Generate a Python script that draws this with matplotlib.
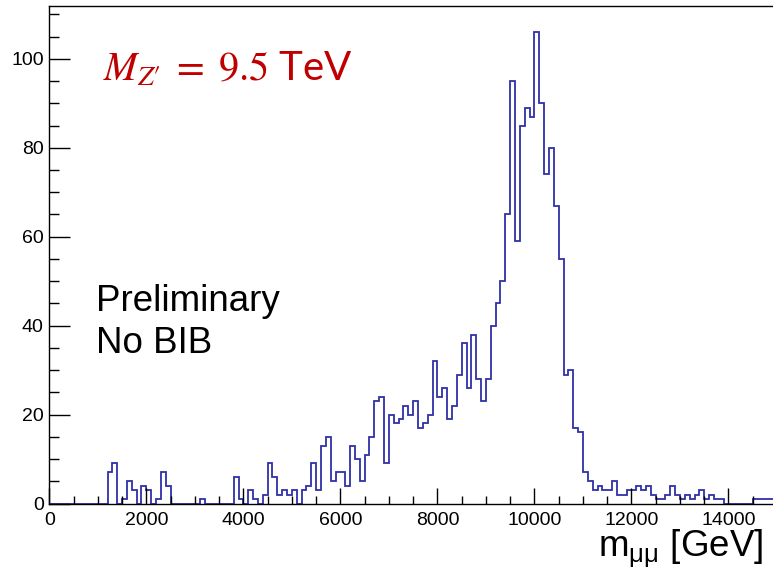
import numpy as np
import matplotlib
matplotlib.use("Agg")
import matplotlib.pyplot as plt
from matplotlib.ticker import MultipleLocator

# ---- data (counts per 100 GeV bin, 0 - 15000 GeV) ----
bin_width = 100
counts = [
    0, 0, 0, 0, 0, 0, 0, 0, 0, 0,        # 0 - 900
    0, 0, 7, 9, 0, 1, 5, 3, 0, 4,        # 1000 - 1900
    3, 0, 1, 7, 4, 0, 0, 0, 0, 0,        # 2000 - 2900
    0, 1, 0, 0, 0, 0, 0, 0, 6, 1,        # 3000 - 3900
    0, 3, 1, 0, 2, 9, 6, 2, 3, 2,        # 4000 - 4900
    3, 0, 3, 4, 9, 3, 13, 15, 5, 7,      # 5000 - 5900
    7, 4, 13, 10, 5, 11, 15, 23, 24, 9,  # 6000 - 6900
    20, 18, 19, 22, 20, 23, 17, 18, 20, 32,   # 7000 - 7900
    24, 26, 19, 22, 29, 36, 26, 38, 28, 23,   # 8000 - 8900
    28, 40, 45, 50, 65, 95, 59, 85, 89, 87,   # 9000 - 9900
    106, 90, 74, 80, 67, 55, 29, 30, 17, 16,  # 10000 - 10900
    7, 5, 3, 4, 3, 3, 5, 2, 2, 3,        # 11000 - 11900
    3, 4, 3, 4, 2, 1, 1, 2, 4, 2,        # 12000 - 12900
    1, 2, 1, 2, 3, 1, 2, 1, 1, 0,        # 13000 - 13900
    0, 0, 0, 0, 0, 1, 1, 1, 1, 1,        # 14000 - 14900
]
x_range = (0, 15000)
y_max = 112
x_tick_labels = ["0", "2000", "4000", "6000", "8000", "10000", "12000", "14000"]
y_tick_labels = ["0", "20", "40", "60", "80", "100"]

edges = np.arange(x_range[0], x_range[1] + bin_width, bin_width)

W, H = 773, 570
fig = plt.figure(figsize=(W / 100, H / 100), dpi=100)
plt.rcParams['font.family'] = ['Liberation Sans', 'DejaVu Sans']

# axes placed in pixel geometry (right edge slightly beyond the canvas, as in the reference crop)
ax_left, ax_right, ax_top, ax_bottom = 49.3, 777.0, 5.5, 503.5
ax = fig.add_axes([ax_left / W, 1 - ax_bottom / H, (ax_right - ax_left) / W, (ax_bottom - ax_top) / H])

ax.stairs(counts, edges, baseline=0, color='#3030a8', linewidth=1.3)

ax.set_xlim(*x_range)
ax.set_ylim(0, y_max)

ax.xaxis.set_minor_locator(MultipleLocator(500))
ax.yaxis.set_minor_locator(MultipleLocator(5))
ax.set_xticks(np.arange(0, 15000, 2000))
ax.set_xticklabels(x_tick_labels)
ax.set_yticks(np.arange(0, 101, 20))
ax.set_yticklabels(y_tick_labels)

ax.tick_params(axis='both', which='both', direction='in', top=False, right=False,
               labelsize=14, width=1.0, colors='black')
ax.tick_params(axis='y', which='major', length=15, pad=4)
ax.tick_params(axis='y', which='minor', length=7.5)
ax.tick_params(axis='x', which='major', length=11.5, pad=6)
ax.tick_params(axis='x', which='minor', length=6)
for s in ax.spines.values():
    s.set_linewidth(1.0)
ax.spines['right'].set_visible(False)

def px(x, y):
    return x / W, 1 - y / H

# x-axis title
fig.text(*px(763, 557), r'm$_{\mathregular{μμ}}$ [GeV]', fontsize=26.5, ha='right', va='baseline')

# annotations
fig.text(*px(96, 311), 'Preliminary', fontsize=26.5, ha='left', va='baseline')
fig.text(*px(96, 353), 'No BIB', fontsize=26.5, ha='left', va='baseline')
fig.text(*px(103, 81), r'$M_{Z\prime}\;=\;9.5$ TeV', fontsize=29, color='#c00000',
         family='Lato', math_fontfamily='stix', ha='left', va='baseline')

fig.savefig('out.png', dpi=100)
